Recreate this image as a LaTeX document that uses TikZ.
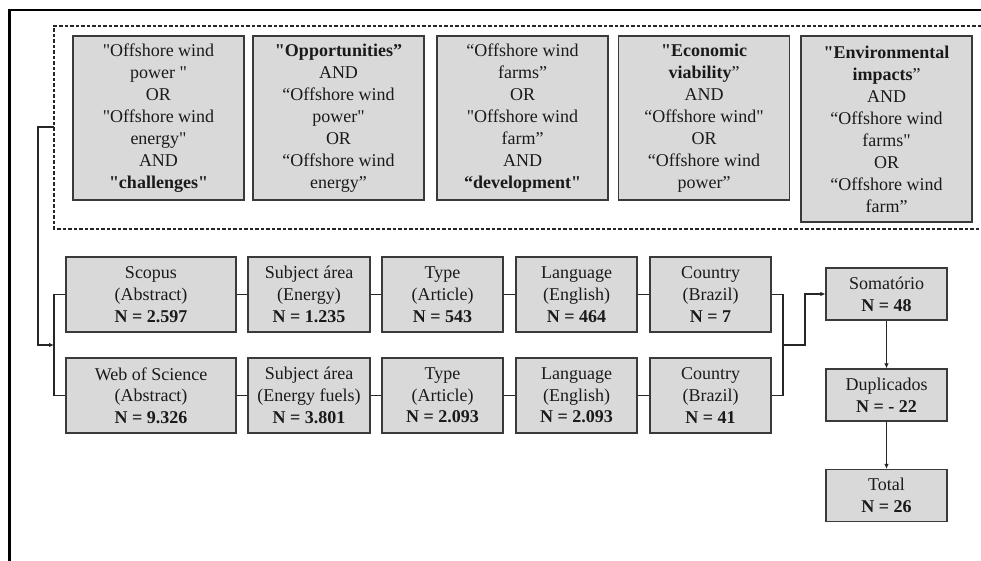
\documentclass[tikz,border=0pt]{standalone}
\usepackage{fontspec}
\setmainfont{Liberation Serif}[Ligatures=TeXOff]
\usetikzlibrary{arrows.meta,calc}
\definecolor{boxfill}{HTML}{D9D9D9}
\definecolor{boxline}{HTML}{3A3A3A}
\definecolor{connline}{HTML}{262626}
\definecolor{txt}{HTML}{1A1A1A}
\tikzset{
  kwbox/.style={draw=boxline,fill=boxfill,line width=1.2pt,align=center,inner sep=0pt,
    minimum width=171pt,minimum height=164pt,text=txt,font=\fontsize{18}{22}\selectfont},
  rowbox/.style={draw=boxline,fill=boxfill,line width=1.2pt,align=center,inner sep=0pt,
    minimum width=121pt,minimum height=75pt,text=txt,font=\fontsize{18}{21.7}\selectfont},
  sumbox/.style={rowbox,minimum height=52pt},
  conn/.style={draw=connline,line width=1.7pt},
  arr/.style={conn,-{Latex[length=5pt,width=4.5pt]}},
}
\begin{document}
\begin{tikzpicture}[x=1pt,y=-1pt]
\useasboundingbox (0,0) rectangle (981,561);
% outer frame (partial)
\draw[black,line width=2.2pt] (9.5,561) -- (9.5,10) -- (981,10);
% dashed keyword frame
\coordinate (kwtl) at (54,26);
\coordinate (kwbl) at (54,229);
\coordinate (kwl) at (54,127);
\draw[connline,line width=1.2pt,dash pattern=on 3.5pt off 2pt] (981,26) -- (kwtl) -- (kwbl) -- (981,229);
% keyword boxes
\node[kwbox] (k1) at (158.5,118) {"Offshore wind\\power "\\OR\\"Offshore wind\\energy"\\AND\\\textbf{"challenges"}};
\node[kwbox] (k2) at (338.5,118) {\textbf{"Opportunities”}\\AND\\“Offshore wind\\power"\\OR\\“Offshore wind\\energy”};
\node[kwbox] (k3) at (522.5,118) {“Offshore wind\\farms”\\OR\\"Offshore wind\\farm”\\AND\\\textbf{“development"}};
\node[kwbox] (k4) at (704,118) {\textbf{"Economic}\\\textbf{viability}”\\AND\\“Offshore wind"\\OR\\“Offshore wind\\power”};
\node[kwbox,minimum height=186pt] (k5) at (886.5,129) {\textbf{"Environmental}\\\textbf{impacts}”\\AND\\“Offshore wind\\farms"\\OR\\“Offshore wind\\farm”};
% row 1
\node[rowbox,minimum width=170pt] (s1) at (151,294.5) {Scopus\\(Abstract)\\\textbf{N = 2.597}};
\node[rowbox,minimum width=122pt] (s2) at (309,294.5) {Subject área\\(Energy)\\\textbf{N = 1.235}};
\node[rowbox] (s3) at (442.5,294.5) {Type\\(Article)\\\textbf{N = 543}};
\node[rowbox] (s4) at (576.5,294.5) {Language\\(English)\\\textbf{N = 464}};
\node[rowbox] (s5) at (710.5,294.5) {Country\\(Brazil)\\\textbf{N = 7}};
% row 2
\node[rowbox,minimum width=170pt] (w1) at (151,395.5) {Web of Science\\(Abstract)\\\textbf{N = 9.326}};
\node[rowbox,minimum width=122pt] (w2) at (309,395.5) {Subject área\\(Energy fuels)\\\textbf{N = 3.801}};
\node[rowbox] (w3) at (442.5,395.5) {Type\\(Article)\\\textbf{N = 2.093}};
\node[rowbox] (w4) at (576.5,395.5) {Language\\(English)\\\textbf{N = 2.093}};
\node[rowbox] (w5) at (710.5,395.5) {Country\\(Brazil)\\\textbf{N = 41}};
% summary column
\node[sumbox] (som) at (886.5,294) {Somatório\\\textbf{N = 48}};
\node[sumbox] (dup) at (886.5,395) {Duplicados\\\textbf{N = - 22}};
\node[sumbox] (tot) at (886.5,495.5) {Total\\\textbf{N = 26}};
% connectors
\coordinate (jl) at (54,345);
\coordinate (jr) at (783,345);
\draw[arr] (kwl) -- (38,127) -- (38,345) -- (jl);
\draw[conn] (s1.west) -| (jl) |- (w1.west);
\draw[conn] (s1) -- (s2) -- (s3) -- (s4) -- (s5);
\draw[conn] (w1) -- (w2) -- (w3) -- (w4) -- (w5);
\draw[conn] (s5.east) -| (jr) |- (w5.east);
\draw[arr] (jr) -- (805,345) |- (som.west);
\draw[arr] (som) -- (dup);
\draw[arr] (dup) -- (tot);
\end{tikzpicture}
\end{document}
